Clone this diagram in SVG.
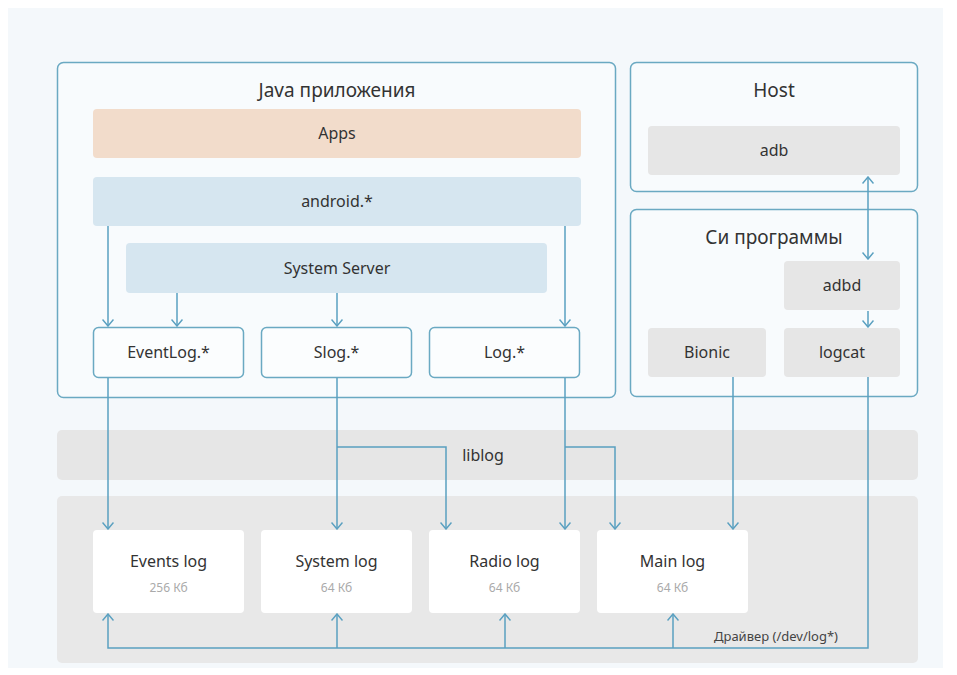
<svg xmlns="http://www.w3.org/2000/svg" width="957" height="675" viewBox="0 0 957 675">
<defs>
<style>
text{font-family:"Noto Sans","Open Sans","Liberation Sans",sans-serif;fill:#333;text-anchor:middle}
.title{font-size:19px}
.lbl{font-size:16px}
.sz{font-size:12px;fill:#aaa}
.frame{fill:#f8fbfd;stroke:#6aa9c2;stroke-width:1.5}
.mod{fill:#fbfdfe;stroke:#6aa9c2;stroke-width:1.5}
.gray{fill:#e6e6e6}
.blue{fill:#d6e6f0}
.peach{fill:#f2dccb}
.white{fill:#ffffff}
#connectors path{fill:none;stroke:#5aa0c0;stroke-width:1.5}
</style>
<marker id="ah" viewBox="0 0 8 12" refX="7" refY="6" markerWidth="8" markerHeight="12" markerUnits="userSpaceOnUse" orient="auto-start-reverse">
<path d="M0.5,0.5 L7,6 L0.5,11.5" fill="none" stroke="#5aa0c0" stroke-width="1.5"/>
</marker>
</defs>
<rect x="0" y="0" width="957" height="675" fill="#ffffff"/>
<rect x="8" y="8" width="935" height="660" fill="#f4f8fb"/>

<g id="java">
<rect class="frame" x="57.5" y="62.5" width="558" height="335" rx="6"/>
<text class="title" x="337" y="97">Java приложения</text>
</g>
<g id="apps"><rect class="peach" x="93" y="109" width="488" height="49" rx="4"/><text class="lbl" x="337" y="139">Apps</text></g>
<g id="android"><rect class="blue" x="93" y="177" width="488" height="49" rx="4"/><text class="lbl" x="337" y="207">android.*</text></g>
<g id="systemserver"><rect class="blue" x="126" y="243" width="421" height="50" rx="4"/><text class="lbl" x="337" y="274">System Server</text></g>
<g id="eventlog"><rect class="mod" x="93.5" y="327.5" width="150" height="50" rx="5"/><text class="lbl" x="168.5" y="358">EventLog.*</text></g>
<g id="slog"><rect class="mod" x="261.5" y="327.5" width="150" height="50" rx="5"/><text class="lbl" x="336.5" y="358">Slog.*</text></g>
<g id="log"><rect class="mod" x="429.5" y="327.5" width="150" height="50" rx="5"/><text class="lbl" x="504.5" y="358">Log.*</text></g>

<g id="host">
<rect class="frame" x="630.5" y="62.5" width="287" height="129" rx="6"/>
<text class="title" x="774" y="97">Host</text>
</g>
<g id="adb"><rect class="gray" x="648" y="126" width="252" height="49" rx="4"/><text class="lbl" x="774" y="156">adb</text></g>

<g id="cprog">
<rect class="frame" x="630.5" y="209.5" width="287" height="187" rx="6"/>
<text class="title" x="774" y="244">Си программы</text>
</g>
<g id="adbd"><rect class="gray" x="784" y="261" width="116" height="49" rx="4"/><text class="lbl" x="842" y="291">adbd</text></g>
<g id="bionic"><rect class="gray" x="648" y="328" width="118" height="49" rx="4"/><text class="lbl" x="707" y="358">Bionic</text></g>
<g id="logcat"><rect class="gray" x="784" y="328" width="116" height="49" rx="4"/><text class="lbl" x="842" y="358">logcat</text></g>

<g id="liblog"><rect class="gray" x="57" y="430" width="861" height="50" rx="5"/><text class="lbl" x="483" y="461">liblog</text></g>

<g id="driver">
<rect fill="#e8e8e8" x="57" y="496" width="861" height="167" rx="5"/>
<text x="838" y="641" style="font-size:13px;fill:#444;text-anchor:end">Драйвер (/dev/log*)</text>
</g>
<g id="eventslog"><rect class="white" x="93" y="530" width="151" height="83" rx="4"/><text class="lbl" x="168.5" y="567">Events log</text><text class="sz" x="168.5" y="592">256 Кб</text></g>
<g id="systemlog"><rect class="white" x="261" y="530" width="151" height="83" rx="4"/><text class="lbl" x="336.5" y="567">System log</text><text class="sz" x="336.5" y="592">64 Кб</text></g>
<g id="radiolog"><rect class="white" x="429" y="530" width="151" height="83" rx="4"/><text class="lbl" x="504.5" y="567">Radio log</text><text class="sz" x="504.5" y="592">64 Кб</text></g>
<g id="mainlog"><rect class="white" x="597" y="530" width="151" height="83" rx="4"/><text class="lbl" x="672.5" y="567">Main log</text><text class="sz" x="672.5" y="592">64 Кб</text></g>

<g id="connectors">
<path d="M108 226 V326" marker-end="url(#ah)"/>
<path d="M177 293 V326" marker-end="url(#ah)"/>
<path d="M337 293 V326" marker-end="url(#ah)"/>
<path d="M565 226 V326" marker-end="url(#ah)"/>
<path d="M108 378 V529" marker-end="url(#ah)"/>
<path d="M337 378 V529" marker-end="url(#ah)"/>
<path d="M337 447 H446 V529" marker-end="url(#ah)"/>
<path d="M565 378 V529" marker-end="url(#ah)"/>
<path d="M565 447 H615 V529" marker-end="url(#ah)"/>
<path d="M733 377 V529" marker-end="url(#ah)"/>
<path d="M868 377 V648 H108 V614" marker-end="url(#ah)"/>
<path d="M337 648 V614" marker-end="url(#ah)"/>
<path d="M505 648 V614" marker-end="url(#ah)"/>
<path d="M673 648 V614" marker-end="url(#ah)"/>
<path d="M868 177 V259" marker-start="url(#ah)" marker-end="url(#ah)"/>
<path d="M868 311 V327" marker-end="url(#ah)"/>
</g>
</svg>
